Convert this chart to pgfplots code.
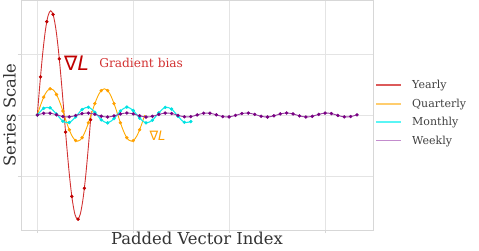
\documentclass[border=0pt]{standalone}
\usepackage{pgfplots}
\pgfplotsset{compat=1.18}
\usepackage{fontspec}
\setmainfont{DejaVu Serif}
\newfontfamily\dejavu{DejaVu Sans}
\definecolor{cred}{RGB}{210,50,50}
\definecolor{cdred}{RGB}{192,0,0}
\definecolor{corange}{RGB}{255,170,0}
\definecolor{cmorange}{RGB}{255,160,0}
\definecolor{ccyan}{RGB}{20,235,235}
\definecolor{cmcyan}{RGB}{0,225,225}
\definecolor{cpurple}{RGB}{150,60,160}
\definecolor{cmpurple}{RGB}{120,0,130}
\definecolor{gridgray}{RGB}{228,228,228}
\definecolor{framegray}{RGB}{215,215,215}
\definecolor{lgred}{RGB}{220,90,90}
\definecolor{lgorange}{RGB}{255,205,110}
\definecolor{lgcyan}{RGB}{90,245,245}
\definecolor{lgpurple}{RGB}{195,140,205}
\begin{document}
\begin{tikzpicture}
\begin{axis}[
  at={(0,0)}, anchor=south west,
  scale only axis, width=352pt, height=230pt,
  xmin=-2.55, xmax=52.5, ymin=-1.885, ymax=1.885,
  xtick={0,15,30,45}, ytick={-1,0,1},
  xticklabels={}, yticklabels={},
  grid=major, major grid style={gridgray, line width=0.7pt},
  axis line style={framegray, line width=0.7pt},
  tick pos=left, tick align=outside, major tick length=3pt,
  tick style={framegray, line width=0.7pt},
  xlabel={Padded Vector Index}, ylabel={Series Scale},
  label style={font=\fontsize{16.4}{19}\selectfont, text=black!80},
  xlabel style={at={(axis description cs:0.5,-0.01)}, anchor=north, inner sep=0pt},
  ylabel style={at={(axis description cs:-0.014,0.5)}, anchor=south, inner sep=0pt},
  legend style={draw=none, fill=none, at={(axis description cs:1.004,0.509)}, anchor=west,
    font=\fontsize{11}{13}\selectfont, text=black!75, row sep=4.6pt, inner xsep=1pt,
    /tikz/every odd column/.append style={column sep=8pt}},
  legend cell align=left,
  legend image code/.code={\draw[#1] (0pt,0pt) -- (25pt,0pt);},
]
\addlegendimage{lgred, line width=1.6pt}
\addlegendentry{Yearly}
\addlegendimage{lgorange, line width=1.6pt}
\addlegendentry{Quarterly}
\addlegendimage{lgcyan, line width=1.6pt}
\addlegendentry{Monthly}
\addlegendimage{lgpurple, line width=1.6pt}
\addlegendentry{Weekly}
% Yearly
\addplot[forget plot, cred, line width=0.9pt, smooth] coordinates {
(0,0) (0.42,0.528) (0.84,1.005) (1.26,1.383) (1.68,1.626) (2.1,1.71) (2.52,1.626)
(2.94,1.383) (3.36,1.005) (3.78,0.528) (4.2,0) (4.62,-0.528) (5.04,-1.005) (5.46,-1.383)
(5.88,-1.626) (6.3,-1.71) (6.72,-1.626) (7.14,-1.383) (7.56,-1.005) (7.98,-0.528) (8.4,0) (8.45,0.06)};
% Quarterly
\addplot[forget plot, corange, line width=0.9pt, smooth] coordinates {
(0,0) (0.42,0.133) (0.84,0.253) (1.26,0.348) (1.68,0.409) (2.1,0.43) (2.52,0.409) (2.94,0.348)
(3.36,0.253) (3.78,0.133) (4.2,0) (4.62,-0.133) (5.04,-0.253) (5.46,-0.348) (5.88,-0.409)
(6.3,-0.43) (6.72,-0.409) (7.14,-0.348) (7.56,-0.253) (7.98,-0.133) (8.4,0) (8.82,0.133)
(9.24,0.253) (9.66,0.348) (10.08,0.409) (10.5,0.43) (10.92,0.409) (11.34,0.348) (11.76,0.253)
(12.18,0.133) (12.6,0) (13.02,-0.133) (13.44,-0.253) (13.86,-0.348) (14.28,-0.409) (14.7,-0.43)
(15.12,-0.409) (15.54,-0.348) (15.96,-0.253) (16.38,-0.133) (16.8,0)};
% Monthly
\addplot[forget plot, ccyan, line width=1.1pt, smooth] coordinates {
(0,0) (1,0.110) (2,0.117) (3,0.016) (4,-0.101) (5,-0.123) (6,-0.031) (7,0.090) (8,0.127)
(9,0.046) (10,-0.079) (11,-0.129) (12,-0.060) (13,0.065) (14,0.130) (15,0.074) (16,-0.051)
(17,-0.128) (18,-0.086) (19,0.036) (20,0.125) (21,0.097) (22,-0.021) (23,-0.120) (24,-0.107)};
% Weekly
\addplot[forget plot, cpurple, line width=0.9pt, smooth] coordinates {
(0,0) (1,0.028) (2,0.030) (3,0.004) (4,-0.026) (5,-0.031) (6,-0.008) (7,0.023) (8,0.032)
(9,0.012) (10,-0.020) (11,-0.033) (12,-0.015) (13,0.017) (14,0.033) (15,0.019) (16,-0.013)
(17,-0.033) (18,-0.022) (19,0.009) (20,0.032) (21,0.025) (22,-0.005) (23,-0.030) (24,-0.027)
(25,0.001) (26,0.029) (27,0.029) (28,0.003) (29,-0.026) (30,-0.031) (31,-0.007) (32,0.024)
(33,0.032) (34,0.010) (35,-0.021) (36,-0.033) (37,-0.014) (38,0.018) (39,0.033) (40,0.018)
(41,-0.014) (42,-0.033) (43,-0.021) (44,0.010) (45,0.032) (46,0.024) (47,-0.007) (48,-0.031)
(49,-0.026) (50,0.003)};
% markers
\addplot[forget plot, only marks, mark=*, mark size=1.5pt, cdred] coordinates {
(0.5,0.625) (1.48,1.529) (2.46,1.648) (3.44,0.920) (4.42,-0.280) (5.4,-1.334) (6.38,-1.707)
(7.36,-1.200) (8.34,-0.077)};
\addplot[forget plot, only marks, mark=*, mark size=1.5pt, cmorange] coordinates {
(0,0) (1,0.292) (2,0.429) (3,0.336) (4,0.064) (5,-0.242) (6,-0.419) (7,-0.372) (8,-0.127)
(9,0.187) (10,0.400) (11,0.400) (12,0.187) (13,-0.127) (14,-0.372) (15,-0.419) (16,-0.242)};
\addplot[forget plot, only marks, mark=*, mark size=1.5pt, cmcyan] coordinates {
(0,0) (1,0.110) (2,0.117) (3,0.016) (4,-0.101) (5,-0.123) (6,-0.031) (7,0.090) (8,0.127)
(9,0.046) (10,-0.079) (11,-0.129) (12,-0.060) (13,0.065) (14,0.130) (15,0.074) (16,-0.051)
(17,-0.128) (18,-0.086) (19,0.036) (20,0.125) (21,0.097) (22,-0.021) (23,-0.120) (24,-0.107)};
\addplot[forget plot, only marks, mark=*, mark size=1.5pt, cmpurple] coordinates {
(0,0) (1,0.028) (2,0.030) (3,0.004) (4,-0.026) (5,-0.031) (6,-0.008) (7,0.023) (8,0.032)
(9,0.012) (10,-0.020) (11,-0.033) (12,-0.015) (13,0.017) (14,0.033) (15,0.019) (16,-0.013)
(17,-0.033) (18,-0.022) (19,0.009) (20,0.032) (21,0.025) (22,-0.005) (23,-0.030) (24,-0.027)
(25,0.001) (26,0.029) (27,0.029) (28,0.003) (29,-0.026) (30,-0.031) (31,-0.007) (32,0.024)
(33,0.032) (34,0.010) (35,-0.021) (36,-0.033) (37,-0.014) (38,0.018) (39,0.033) (40,0.018)
(41,-0.014) (42,-0.033) (43,-0.021) (44,0.010) (45,0.032) (46,0.024) (47,-0.007) (48,-0.031)
(49,-0.026) (50,0.003)};
% annotations
\node[text=cdred, font=\dejavu\fontsize{20}{20}\selectfont, inner sep=0pt] at (axis cs:6.13,0.85) {∇\textit{L}};
\node[anchor=west, text=cred, font=\fontsize{12.2}{13}\selectfont, inner sep=0pt] at (axis cs:9.67,0.85) {Gradient bias};
\node[text=cmorange, font=\dejavu\fontsize{13}{13}\selectfont, inner sep=0pt] at (axis cs:18.8,-0.344) {∇\textit{L}};
\end{axis}
\pgfresetboundingbox
\path[use as bounding box] (-21pt,-20pt) rectangle (458pt,230pt);
\end{tikzpicture}
\end{document}
